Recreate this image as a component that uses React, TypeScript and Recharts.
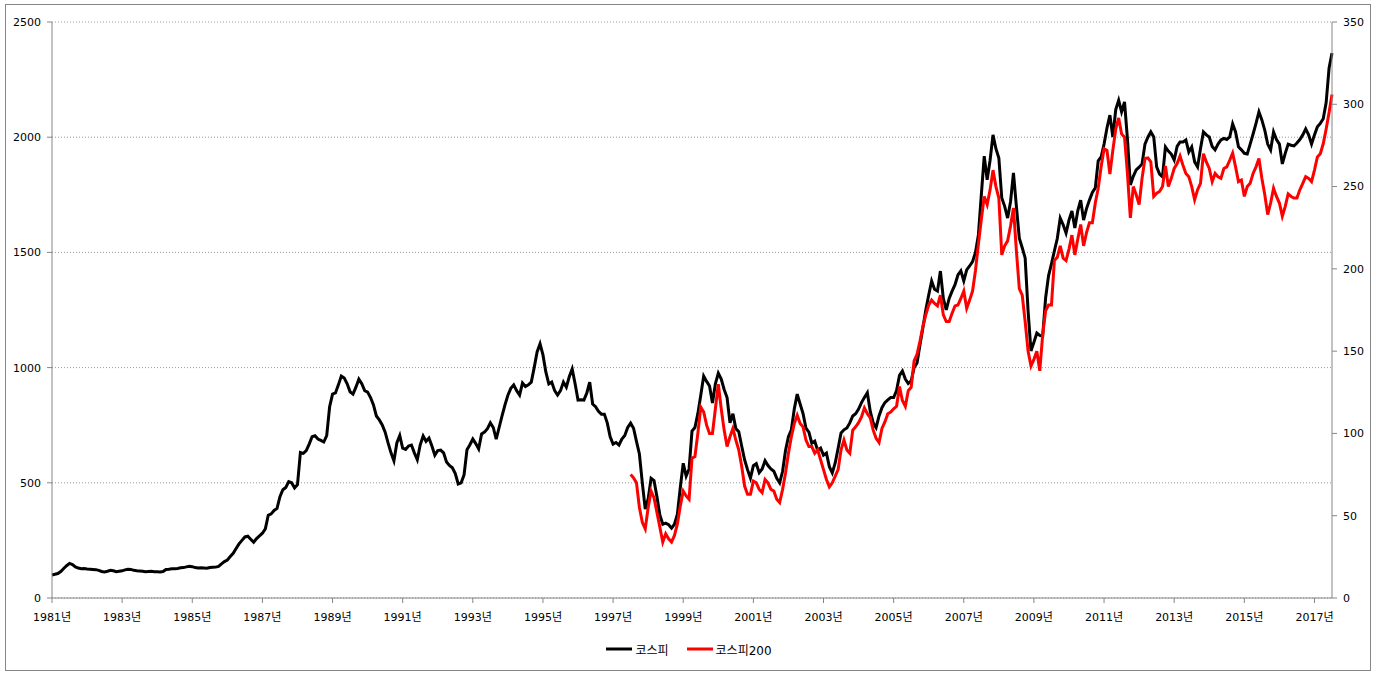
import React from "react";
import {
  LineChart,
  Line,
  XAxis,
  YAxis,
  CartesianGrid,
  Legend,
} from "recharts";

// monthly series, 1981-01 .. 2017-07
const START_YEAR = 1981;
const KOSPI200_START = "1997-07";

const kospi: number[] = [
  // 1981
  100, 103, 106, 115, 128, 140, 150, 145, 135, 130, 127, 128,
  // 1982
  126, 125, 124, 123, 120, 115, 113, 116, 120, 118, 114, 116,
  // 1983
  118, 122, 125, 124, 120, 118, 117, 116, 114, 115, 116, 114,
  // 1984
  114, 113, 115, 124, 125, 127, 127, 128, 131, 132, 135, 138,
  // 1985
  136, 132, 130, 131, 130, 129, 132, 133, 134, 137, 148, 158,
  // 1986
  165, 180, 194, 215, 235, 250, 265, 268, 255, 242, 258, 270,
  // 1987
  281, 300, 359, 365, 380, 389, 440, 470, 480, 505, 500, 478,
  // 1988
  492, 632, 628, 640, 668, 700, 704, 690, 684, 677, 705, 830,
  // 1989
  885, 890, 925, 963, 955, 930, 895, 885, 915, 950, 930, 900,
  // 1990
  894, 870, 838, 790, 773, 751, 720, 673, 630, 595, 673, 705,
  // 1991
  650, 645, 660, 664, 630, 600, 665, 703, 680, 694, 660, 620,
  // 1992
  640, 642, 630, 590, 575, 565, 540, 495, 500, 534, 643, 665,
  // 1993
  690, 670, 647, 712, 720, 735, 760, 740, 690, 740, 790, 838,
  // 1994
  880, 910, 925, 900, 881, 933, 918, 925, 937, 1000, 1068, 1103,
  // 1995
  1055, 980, 929, 937, 900, 881, 900, 937, 915, 960, 994, 930,
  // 1996
  859, 860, 859, 890, 937, 842, 830, 810, 798, 798, 760, 700,
  // 1997
  668, 675, 664, 690, 705, 740, 759, 737, 680, 625, 500, 386,
  // 1998
  430, 520, 510, 440, 360, 320, 325, 318, 303, 320, 364, 480,
  // 1999
  585, 529, 560, 724, 740, 800, 880, 963, 940, 920, 846, 930,
  // 2000
  976, 950, 905, 870, 760, 800, 735, 722, 660, 600, 557, 520,
  // 2001
  574, 583, 544, 560, 596, 575, 560, 550, 520, 500, 550, 640,
  // 2002
  700, 730, 820, 885, 842, 800, 737, 720, 672, 681, 640, 650,
  // 2003
  620, 629, 570, 543, 586, 650, 716, 730, 738, 760, 790, 800,
  // 2004
  820, 848, 870, 891, 810, 760, 739, 790, 826, 848, 860, 870,
  // 2005
  870, 900, 966, 985, 950, 931, 942, 1000, 1020, 1098, 1172, 1250,
  // 2006
  1315, 1376, 1340, 1332, 1419, 1300, 1250, 1300, 1332, 1360, 1402, 1420,
  // 2007
  1376, 1424, 1441, 1460, 1500, 1576, 1750, 1918, 1815, 1900, 2010, 1950,
  // 2008
  1910, 1736, 1700, 1649, 1720, 1845, 1700, 1562, 1520, 1476, 1246, 1072,
  // 2009
  1110, 1150, 1140, 1137, 1302, 1398, 1450, 1506, 1560, 1649, 1620, 1584,
  // 2010
  1640, 1680, 1606, 1680, 1727, 1640, 1690, 1727, 1760, 1780, 1897, 1914,
  // 2011
  1970, 2040, 2096, 2001, 2120, 2160, 2110, 2153, 1993, 1793, 1830, 1858,
  // 2012
  1870, 1884, 1970, 2000, 2023, 2001, 1871, 1840, 1828, 1958, 1940, 1927,
  // 2013
  1901, 1960, 1979, 1979, 1988, 1936, 1958, 1893, 1871, 1950, 2023, 2010,
  // 2014
  2001, 1960, 1945, 1970, 1988, 1995, 1990, 2001, 2058, 2023, 1958, 1945,
  // 2015
  1930, 1927, 1970, 2014, 2060, 2110, 2075, 2030, 1970, 1945, 2023, 1990,
  // 2016
  1970, 1884, 1930, 1970, 1965, 1962, 1975, 1990, 2010, 2036, 2010, 1970,
  // 2017
  2010, 2045, 2060, 2080, 2150, 2300, 2365,
];

const kospi200: number[] = [
  // 1997 (Jul-Dec)
  75, 73, 70, 55, 46, 42,
  // 1998
  55, 65, 61, 52, 43, 34, 39, 36, 34, 38, 45, 56,
  // 1999
  65, 62, 60, 85, 86, 100, 116, 113, 105, 100, 100, 115,
  // 2000
  130, 115, 102, 92, 98, 103, 96, 90, 80, 68, 63, 63,
  // 2001
  71, 70, 66, 64, 72, 70, 66, 65, 60, 58, 66, 76,
  // 2002
  88, 98, 106, 111, 106, 104, 96, 92, 92, 88, 90, 84,
  // 2003
  78, 72, 67.5, 70, 74, 78, 90, 96, 90, 88, 102, 104,
  // 2004
  106.5, 110, 115.5, 112, 109.5, 102, 97, 94.5, 103, 107, 112, 113,
  // 2005
  115, 116.5, 128.5, 120, 116.5, 126, 128, 144, 148, 156, 165, 172,
  // 2006
  178, 181, 179, 177.5, 184, 172, 168, 168, 173, 177.5, 178, 182,
  // 2007
  186.5, 176, 181, 186.5, 199, 215, 230, 244, 239, 248, 260, 250,
  // 2008
  243, 208.5, 214, 217, 226, 237, 211, 188, 184, 168, 150, 141,
  // 2009
  145, 150, 138, 160, 174.5, 178, 178, 205, 207, 214, 206.5, 205,
  // 2010
  212, 220.5, 208.5, 218, 227, 214, 222, 228, 228, 240, 249, 262,
  // 2011
  273, 272, 257.6, 272, 285, 291.7, 282, 280, 258, 231, 250, 245,
  // 2012
  239, 255, 267, 267.4, 265, 244, 246, 247, 250, 262.5, 250, 255,
  // 2013
  261, 264, 268.6, 263, 258, 256, 250, 242, 248, 252, 270, 265,
  // 2014
  261, 253, 258, 256, 255, 261, 262, 266, 270.4, 262, 253, 254,
  // 2015
  244, 250, 252, 258, 262, 267, 255, 245, 233, 240, 249, 244,
  // 2016
  240, 232, 238, 245.5, 244, 243, 243, 248, 252, 256, 255, 253,
  // 2017
  260, 268, 270, 276, 285, 295, 306,
];

const leftTicks = [0, 500, 1000, 1500, 2000, 2500];
const rightTicks = [0, 50, 100, 150, 200, 250, 300, 350];

const FONT = "'DejaVu Sans', 'Noto Sans CJK KR', sans-serif";
const AXIS = "#868686";

function monthKey(i: number) {
  const y = START_YEAR + Math.floor(i / 12);
  const m = (i % 12) + 1;
  return `${y}-${String(m).padStart(2, "0")}`;
}

const months = kospi.map((_, i) => monthKey(i));
const offset = months.indexOf(KOSPI200_START);

const chartData = months.map((m, i) => ({
  month: m,
  kospi: kospi[i],
  kospi200: i >= offset ? kospi200[i - offset] ?? null : null,
}));

function renderLegend(props: any) {
  const { payload } = props;
  return (
    <div
      style={{
        display: "flex",
        justifyContent: "center",
        gap: 18,
        fontFamily: FONT,
        fontSize: 12,
        height: 22,
        alignItems: "center",
      }}
    >
      {(payload || []).map((p: any) => (
        <span key={p.value} style={{ display: "flex", alignItems: "center" }}>
          <svg width={26} height={10} style={{ marginRight: 3 }}>
            <line x1={0} y1={5} x2={26} y2={5} stroke={p.color} strokeWidth={3} />
          </svg>
          <span style={{ color: "#000" }}>{p.value}</span>
        </span>
      ))}
    </div>
  );
}

export default function App() {
  return (
    <div style={{ position: "absolute", left: 0, top: 0, width: 1378, height: 676, background: "#fff" }}>
      <div
        style={{
          position: "absolute",
          left: 5,
          top: 4,
          width: 1366,
          height: 667,
          border: `1px solid ${AXIS}`,
          boxSizing: "border-box",
        }}
      />
      <LineChart
        width={1378}
        height={676}
        data={chartData}
        margin={{ top: 22, right: 0, bottom: 16, left: 0 }}
        style={{ position: "absolute", left: 0, top: 0 }}
      >
        <CartesianGrid
          yAxisId="left"
          vertical={false}
          stroke="#9a9a9a"
          strokeDasharray="1 2"
        />
        <XAxis
          dataKey="month"
          interval={23}
          height={40}
          tickSize={5}
          tickMargin={10}
          stroke={AXIS}
          tick={{ fill: "#000", fontSize: 11, fontFamily: FONT }}
          tickFormatter={(v: string) => `${v.slice(0, 4)}년`}
        />
        <YAxis
          yAxisId="left"
          domain={[0, 2500]}
          ticks={leftTicks}
          width={52}
          tickSize={5}
          tickMargin={6}
          stroke={AXIS}
          tick={{ fill: "#000", fontSize: 11, fontFamily: FONT }}
        />
        <YAxis
          yAxisId="right"
          orientation="right"
          domain={[0, 350]}
          ticks={rightTicks}
          width={46}
          tickSize={5}
          tickMargin={6}
          stroke={AXIS}
          tick={{ fill: "#000", fontSize: 11, fontFamily: FONT }}
        />
        <Legend verticalAlign="bottom" content={renderLegend} />
        <Line
          yAxisId="left"
          type="linear"
          dataKey="kospi"
          name="코스피"
          stroke="#000000"
          strokeWidth={3}
          dot={false}
          isAnimationActive={false}
        />
        <Line
          yAxisId="right"
          type="linear"
          dataKey="kospi200"
          name="코스피200"
          stroke="#ff0000"
          strokeWidth={3}
          dot={false}
          connectNulls={false}
          isAnimationActive={false}
        />
      </LineChart>
    </div>
  );
}
